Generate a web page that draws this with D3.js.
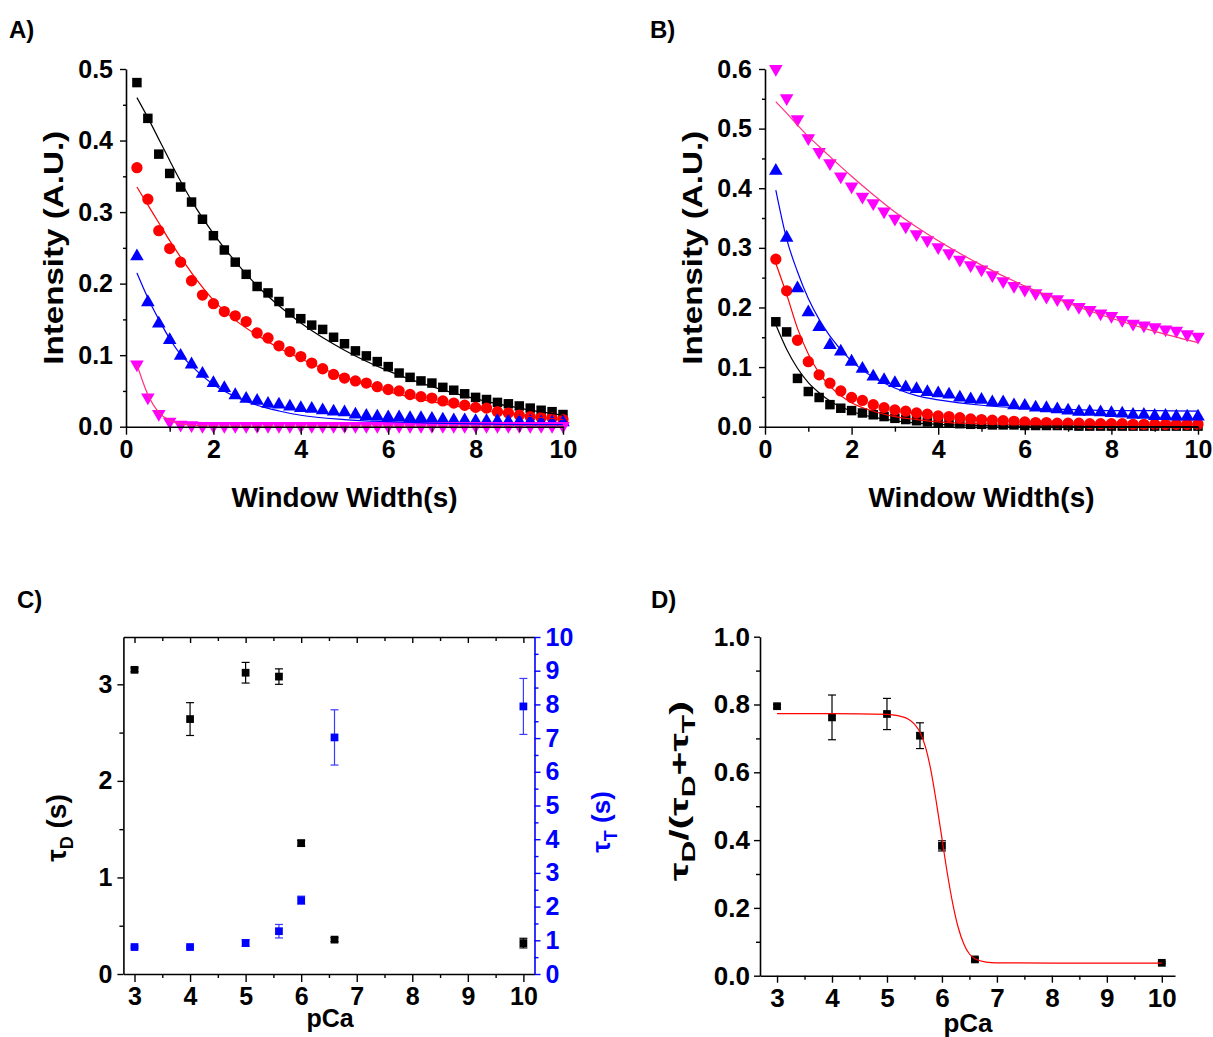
<!DOCTYPE html>
<html>
<head>
<meta charset="utf-8">
<script src="https://cdn.jsdelivr.net/npm/d3@7"></script>
<style>
  body { margin: 0; background: #fff; }
  svg text { font-family: 'Liberation Sans', Arial, sans-serif; font-weight: bold; }
</style>
</head>
<body>
<svg id="drawing_region"></svg>
<script>
// ---- data ----
const winWidth = [0.25, 0.5, 0.75, 1, 1.25, 1.5, 1.75, 2, 2.25, 2.5, 2.75, 3, 3.25, 3.5, 3.75, 4,
    4.25, 4.5, 4.75, 5, 5.25, 5.5, 5.75, 6, 6.25, 6.5, 6.75, 7, 7.25, 7.5, 7.75, 8,
    8.25, 8.5, 8.75, 9, 9.25, 9.5, 9.75, 10];

const aBlack = [0.481, 0.431, 0.381, 0.354, 0.335, 0.314, 0.290, 0.267, 0.247, 0.230, 0.213, 0.196,
    0.187, 0.175, 0.159, 0.151, 0.142, 0.136, 0.125, 0.116, 0.106, 0.099, 0.091, 0.084, 0.075, 0.069,
    0.064, 0.061, 0.055, 0.051, 0.046, 0.041, 0.038, 0.034, 0.032, 0.029, 0.026, 0.023, 0.021, 0.017];
const aRed = [0.362, 0.318, 0.274, 0.249, 0.230, 0.204, 0.184, 0.172, 0.161, 0.155, 0.147, 0.131,
    0.124, 0.113, 0.105, 0.098, 0.089, 0.081, 0.073, 0.068, 0.064, 0.061, 0.056, 0.052, 0.050, 0.045,
    0.042, 0.040, 0.036, 0.033, 0.030, 0.027, 0.026, 0.021, 0.019, 0.016, 0.014, 0.013, 0.012, 0.010];
const aBlue = [0.238, 0.174, 0.144, 0.121, 0.099, 0.087, 0.074, 0.061, 0.054, 0.044, 0.039, 0.036,
    0.032, 0.031, 0.028, 0.026, 0.025, 0.023, 0.021, 0.020, 0.017, 0.015, 0.014, 0.013, 0.013, 0.012,
    0.012, 0.011, 0.010, 0.009, 0.009, 0.008, 0.008, 0.008, 0.007, 0.007, 0.007, 0.006, 0.006, 0.006];
const aMagenta = [0.087, 0.041, 0.018, 0.007, 0.003, 0.002, 0.001, 0.001, 0.001, 0.001, 0.001, 0.001,
    0.001, 0.001, 0.001, 0.001, 0.001, 0.001, 0.001, 0.001, 0.001, 0.001, 0.001, 0.001, 0.001, 0.001,
    0.001, 0.001, 0.001, 0.001, 0.001, 0.001, 0.001, 0.001, 0.001, 0.001, 0.001, 0.001, 0.001, 0.001];

const bBlack = [0.176, 0.159, 0.081, 0.059, 0.049, 0.037, 0.031, 0.027, 0.023, 0.020, 0.017, 0.014,
    0.012, 0.010, 0.008, 0.007, 0.006, 0.005, 0.004, 0.004, 0.003, 0.003, 0.003, 0.002, 0.002, 0.002,
    0.002, 0.002, 0.001, 0.001, 0.001, 0.001, 0.001, 0.001, 0.001, 0.001, 0.001, 0.001, 0.001, 0.001];
const bRed = [0.281, 0.228, 0.145, 0.109, 0.087, 0.073, 0.060, 0.049, 0.044, 0.037, 0.032, 0.028,
    0.026, 0.023, 0.021, 0.018, 0.017, 0.015, 0.013, 0.012, 0.011, 0.010, 0.009, 0.008, 0.007, 0.007,
    0.006, 0.006, 0.006, 0.005, 0.005, 0.005, 0.005, 0.004, 0.004, 0.004, 0.004, 0.004, 0.004, 0.004];
const bBlue = [0.429, 0.317, 0.232, 0.192, 0.167, 0.137, 0.126, 0.109, 0.097, 0.084, 0.078, 0.073,
    0.066, 0.063, 0.058, 0.056, 0.054, 0.049, 0.046, 0.045, 0.041, 0.041, 0.036, 0.035, 0.032, 0.031,
    0.029, 0.027, 0.025, 0.025, 0.024, 0.023, 0.022, 0.020, 0.020, 0.018, 0.018, 0.017, 0.017, 0.017];
const bMagenta = [0.600, 0.551, 0.516, 0.484, 0.461, 0.442, 0.420, 0.403, 0.386, 0.375, 0.361, 0.349,
    0.336, 0.323, 0.313, 0.301, 0.291, 0.280, 0.271, 0.264, 0.254, 0.244, 0.236, 0.230, 0.224, 0.218,
    0.214, 0.207, 0.201, 0.196, 0.190, 0.186, 0.179, 0.173, 0.170, 0.167, 0.163, 0.161, 0.155, 0.151];

// fitted curves
const fitX = [0.25, 0.5, 0.75, 1, 1.25, 1.5, 2, 2.5, 3, 3.5, 4, 5, 6, 7, 8, 9, 10];
const fitABlack = [0.46, 0.432, 0.402, 0.372, 0.343, 0.316, 0.27, 0.231, 0.197, 0.169, 0.145, 0.107, 0.078, 0.056, 0.039, 0.026, 0.016];
const fitARed = [0.335, 0.31, 0.285, 0.26, 0.237, 0.215, 0.177, 0.149, 0.128, 0.11, 0.095, 0.069, 0.049, 0.035, 0.024, 0.016, 0.01];
const fitABlue = [0.215, 0.18, 0.15, 0.123, 0.101, 0.085, 0.059, 0.042, 0.03, 0.022, 0.016, 0.01, 0.007, 0.005, 0.004, 0.003, 0.003];
const fitAMagenta = [0.087, 0.045, 0.02, 0.009, 0.004, 0.002, 0.001, 0.001, 0.001, 0.001, 0.001, 0.001, 0.001, 0.001, 0.001, 0.001, 0.001];
const fitBBlack = [0.171, 0.13, 0.098, 0.074, 0.057, 0.043, 0.026, 0.016, 0.01, 0.006, 0.004, 0.002, 0.001, 0.001, 0, 0, 0];
const fitBRed = [0.274, 0.222, 0.165, 0.122, 0.09, 0.068, 0.04, 0.026, 0.017, 0.012, 0.008, 0.005, 0.004, 0.004, 0.004, 0.004, 0.004];
const fitBBlue = [0.397, 0.315, 0.26, 0.215, 0.18, 0.152, 0.11, 0.083, 0.065, 0.052, 0.045, 0.036, 0.031, 0.029, 0.027, 0.027, 0.026];
const fitBMagenta = [0.545, 0.526, 0.506, 0.487, 0.47, 0.453, 0.42, 0.389, 0.36, 0.335, 0.312, 0.271, 0.236, 0.207, 0.182, 0.16, 0.141];

const pCa = [3, 4, 5, 5.6, 6, 6.6, 10];
const tauD = [3.15, 2.64, 3.12, 3.08, 1.355, 0.356, 0.32];
const tauDErr = [0.02, 0.17, 0.107, 0.08, 0.03, 0.02, 0.05];
const tauT = [0.80, 0.80, 0.92, 1.27, 2.19, 7.02, 7.94];
const tauTErr = [0.03, 0.03, 0.1, 0.2, 0.12, 0.82, 0.83];

const ratio = [0.795, 0.762, 0.772, 0.708, 0.383, 0.048, 0.038];
const ratioErr = [0.005, 0.066, 0.046, 0.038, 0.015, 0.005, 0.003];
const fitDX = [3, 4, 5, 5.2, 5.4, 5.5, 5.6, 5.7, 5.8, 5.9, 6.0, 6.1, 6.2, 6.3, 6.4, 6.5, 6.6, 6.8, 7, 8, 10];
const fitDY = [0.773, 0.773, 0.771, 0.767, 0.756, 0.742, 0.718, 0.675, 0.605, 0.51, 0.405, 0.3, 0.21, 0.14, 0.093, 0.064, 0.05, 0.04, 0.038, 0.037, 0.037];

const decayTicks = [0, 2, 4, 6, 8, 10];
const decayMinor = [1, 3, 5, 7, 9];
const pCaTicks = [3, 4, 5, 6, 7, 8, 9, 10];
const pCaMinor = [3.5, 4.5, 5.5, 6.5, 7.5, 8.5, 9.5];

// ---- drawing ----
const width = 1213;
const height = 1037;

const svg = d3.select('#drawing_region')
    .attr('width', width)
    .attr('height', height);

svg.append('rect').attr('width', width).attr('height', height).attr('fill', '#fff');

function styleAxis(g, color, fs) {
    g.selectAll('path').attr('stroke', color).attr('stroke-width', 1.6);
    g.selectAll('line').attr('stroke', color).attr('stroke-width', 1.4);
    g.selectAll('text').attr('fill', color).attr('font-size', fs + 'px')
        .attr('font-family', "'Liberation Sans', Arial, sans-serif").attr('font-weight', 'bold');
}

function minorTicks(g, axisFn, scale, values, size, color) {
    const m = g.append('g').call(axisFn(scale).tickValues(values).tickSize(size).tickSizeOuter(0).tickFormat(''));
    m.select('path').remove();
    m.selectAll('line').attr('stroke', color).attr('stroke-width', 1.4);
}

function panelLabel(x, y, t) {
    svg.append('text').attr('x', x).attr('y', y).attr('font-size', '24px').text(t);
}

const symbols = {
    square: d3.symbol().type(d3.symbolSquare).size(90),
    circle: d3.symbol().type(d3.symbolCircle).size(100),
    triangle: d3.symbol().type(d3.symbolTriangle).size(80)
};

function decayPanel(box, ymax, series) {
    const x = d3.scaleLinear().domain([0, 10]).range([box.x0, box.x1]);
    const y = d3.scaleLinear().domain([0, ymax]).range([box.y1, box.y0]);
    const g = svg.append('g');

    series.forEach(s => {
        g.append('g').selectAll('path').data(winWidth).enter().append('path')
            .attr('d', symbols[s.shape])
            .attr('fill', s.color)
            .attr('transform', (d, i) => `translate(${x(d)},${y(s.values[i])})` + (s.down ? ' rotate(180)' : ''));
    });
    series.forEach(s => {
        const line = d3.line().x(d => x(d)).y((d, i) => y(s.fit[i])).curve(d3.curveMonotoneX);
        g.append('path').datum(fitX).attr('d', line)
            .attr('fill', 'none').attr('stroke', s.lineColor).attr('stroke-width', 1.2);
    });

    const xa = svg.append('g').attr('transform', `translate(0,${box.y1})`);
    xa.call(d3.axisBottom(x).tickValues(decayTicks).tickSize(8).tickPadding(6).tickSizeOuter(0));
    styleAxis(xa, '#000', 25);
    minorTicks(xa, d3.axisBottom, x, decayMinor, 5, '#000');

    const ya = svg.append('g').attr('transform', `translate(${box.x0},0)`);
    ya.call(d3.axisLeft(y).tickValues(d3.range(0, ymax + 0.001, 0.1)).tickSize(6).tickPadding(7)
        .tickSizeOuter(0).tickFormat(d3.format('.1f')));
    styleAxis(ya, '#000', 25);
    minorTicks(ya, d3.axisLeft, y, d3.range(0.05, ymax, 0.1), 3, '#000');

    svg.append('text').attr('x', (box.x0 + box.x1) / 2 - 0).attr('y', 507)
        .attr('text-anchor', 'middle').attr('font-size', '27px')
        .attr('textLength', 226).attr('lengthAdjust', 'spacingAndGlyphs').text('Window Width(s)');
    svg.append('text').attr('transform', `translate(${box.x0 - 63},${(box.y0 + box.y1) / 2}) rotate(-90)`)
        .attr('text-anchor', 'middle').attr('font-size', '28px')
        .attr('textLength', 234).attr('lengthAdjust', 'spacingAndGlyphs').text('Intensity (A.U.)');
}

decayPanel({ x0: 126, x1: 563, y0: 69, y1: 426.7 }, 0.5, [
    { values: aBlack, fit: fitABlack, shape: 'square', color: '#000', lineColor: '#000' },
    { values: aRed, fit: fitARed, shape: 'circle', color: '#ff0000', lineColor: '#ff0000' },
    { values: aBlue, fit: fitABlue, shape: 'triangle', color: '#0000ff', lineColor: '#0000ff' },
    { values: aMagenta, fit: fitAMagenta, shape: 'triangle', down: true, color: '#ff00ff', lineColor: '#ff3080' }
]);

decayPanel({ x0: 765, x1: 1198, y0: 69, y1: 426.7 }, 0.6, [
    { values: bBlack, fit: fitBBlack, shape: 'square', color: '#000', lineColor: '#000' },
    { values: bRed, fit: fitBRed, shape: 'circle', color: '#ff0000', lineColor: '#ff0000' },
    { values: bBlue, fit: fitBBlue, shape: 'triangle', color: '#0000ff', lineColor: '#0000ff' },
    { values: bMagenta, fit: fitBMagenta, shape: 'triangle', down: true, color: '#ff00ff', lineColor: '#ff3080' }
]);

panelLabel(9, 38, 'A)');
panelLabel(650, 38, 'B)');
panelLabel(17, 608, 'C)');
panelLabel(651, 608, 'D)');

function errorBars(g, xs, ys, es, x, y, color, sw) {
    xs.forEach((d, i) => {
        const cx = x(d), top = y(ys[i] + es[i]), bot = y(ys[i] - es[i]);
        g.append('line').attr('x1', cx).attr('x2', cx).attr('y1', top).attr('y2', bot)
            .attr('stroke', color).attr('stroke-width', sw);
        [top, bot].forEach(v => g.append('line').attr('x1', cx - 4).attr('x2', cx + 4)
            .attr('y1', v).attr('y2', v).attr('stroke', color).attr('stroke-width', sw));
    });
}

function tauLabel(t, sub, subSize) {
    // τ with subscript
    t.append('tspan').text('τ');
    t.append('tspan').attr('font-size', subSize + 'px').attr('dy', 7).text(sub);
}

// ---- panel C ----
(function () {
    const box = { x0: 123.4, x1: 534.5, y0: 637, y1: 974 };
    const x = d3.scaleLinear().domain([2.8, 10.2]).range([box.x0, box.x1]);
    const yl = d3.scaleLinear().domain([0, 3.49]).range([box.y1, box.y0]);
    const yr = d3.scaleLinear().domain([0, 10]).range([box.y1, box.y0]);
    const g = svg.append('g');

    errorBars(g, pCa, tauD, tauDErr, x, yl, '#000', 1.2);
    g.selectAll('.sd').data(pCa).enter().append('path')
        .attr('d', d3.symbol().type(d3.symbolSquare).size(60))
        .attr('fill', '#000')
        .attr('transform', (d, i) => `translate(${x(d)},${yl(tauD[i])})`);

    errorBars(g, pCa, tauT, tauTErr, x, yr, '#3a3aff', 1.2);
    g.selectAll('.st').data(pCa).enter().append('path')
        .attr('d', d3.symbol().type(d3.symbolSquare).size(60))
        .attr('fill', '#0000ff')
        .attr('transform', (d, i) => `translate(${x(d)},${yr(tauT[i])})`);

    const xa = svg.append('g').attr('transform', `translate(0,${box.y1})`);
    xa.call(d3.axisBottom(x).tickValues(pCaTicks).tickSize(8).tickPadding(5).tickSizeOuter(0));
    styleAxis(xa, '#000', 25);
    minorTicks(xa, d3.axisBottom, x, pCaMinor, 4, '#000');

    const xt = svg.append('g').attr('transform', `translate(0,${box.y0})`);
    xt.call(d3.axisBottom(x).tickValues(pCaTicks).tickSize(6).tickSizeOuter(0).tickFormat(''));
    styleAxis(xt, '#000', 25);
    minorTicks(xt, d3.axisBottom, x, pCaMinor, 4, '#000');

    const ya = svg.append('g').attr('transform', `translate(${box.x0},0)`);
    ya.call(d3.axisLeft(yl).tickValues([0, 1, 2, 3]).tickSize(6).tickPadding(5).tickSizeOuter(0)
        .tickFormat(d3.format('d')));
    styleAxis(ya, '#000', 25);
    minorTicks(ya, d3.axisLeft, yl, [0.5, 1.5, 2.5], 4, '#000');

    const yb = svg.append('g').attr('transform', `translate(${box.x1},0)`);
    yb.call(d3.axisRight(yr).tickValues(d3.range(0, 11, 1)).tickSize(6).tickPadding(5).tickSizeOuter(0));
    styleAxis(yb, '#0000ff', 25);
    minorTicks(yb, d3.axisRight, yr, d3.range(0.5, 10, 1), 4, '#0000ff');

    svg.append('text').attr('x', 330).attr('y', 1027)
        .attr('text-anchor', 'middle').attr('font-size', '25px').text('pCa');

    const tl = svg.append('text').attr('transform', `translate(66,828) rotate(-90)`)
        .attr('text-anchor', 'middle').attr('font-size', '28px');
    tauLabel(tl, 'D', 18);
    tl.append('tspan').attr('dy', -7).text(' (s)');

    const tr = svg.append('text').attr('transform', `translate(610,822) rotate(-90)`)
        .attr('text-anchor', 'middle').attr('font-size', '26px').attr('fill', '#0000ff');
    tauLabel(tr, 'T', 18);
    tr.append('tspan').attr('dy', -7).text(' (s)');
})();

// ---- panel D ----
(function () {
    const box = { x0: 760, x1: 1175, y0: 636.7, y1: 975.7 };
    const x = d3.scaleLinear().domain([2.69, 10.24]).range([box.x0, box.x1]);
    const y = d3.scaleLinear().domain([0, 1]).range([box.y1, box.y0]);
    const g = svg.append('g');

    errorBars(g, pCa, ratio, ratioErr, x, y, '#000', 1.2);
    g.selectAll('.sr').data(pCa).enter().append('path')
        .attr('d', d3.symbol().type(d3.symbolSquare).size(60))
        .attr('fill', '#000')
        .attr('transform', (d, i) => `translate(${x(d)},${y(ratio[i])})`);

    const line = d3.line().x(d => x(d)).y((d, i) => y(fitDY[i])).curve(d3.curveMonotoneX);
    g.append('path').datum(fitDX).attr('d', line)
        .attr('fill', 'none').attr('stroke', '#ff0000').attr('stroke-width', 1.2);

    const xa = svg.append('g').attr('transform', `translate(0,${box.y1})`);
    xa.call(d3.axisBottom(x).tickValues(pCaTicks).tickSize(7).tickPadding(6).tickSizeOuter(0));
    styleAxis(xa, '#000', 26);
    minorTicks(xa, d3.axisBottom, x, pCaMinor, 4, '#000');

    const ya = svg.append('g').attr('transform', `translate(${box.x0},0)`);
    ya.call(d3.axisLeft(y).tickValues([0, 0.2, 0.4, 0.6, 0.8, 1.0]).tickSize(6).tickPadding(4)
        .tickSizeOuter(0).tickFormat(d3.format('.1f')));
    styleAxis(ya, '#000', 26);
    minorTicks(ya, d3.axisLeft, y, [0.1, 0.3, 0.5, 0.7, 0.9], 4, '#000');

    svg.append('text').attr('x', 968).attr('y', 1032)
        .attr('text-anchor', 'middle').attr('font-size', '26px').text('pCa');

    const t = svg.append('text').attr('transform', `translate(688,791) rotate(-90)`)
        .attr('text-anchor', 'middle').attr('font-size', '26px')
        .attr('textLength', 180).attr('lengthAdjust', 'spacingAndGlyphs');
    tauLabel(t, 'D', 19);
    t.append('tspan').attr('dy', -7).text('/(');
    tauLabel(t, 'D', 19);
    t.append('tspan').attr('dy', -7).text('+');
    tauLabel(t, 'T', 19);
    t.append('tspan').attr('dy', -7).text(')');
})();
</script>
</body>
</html>
